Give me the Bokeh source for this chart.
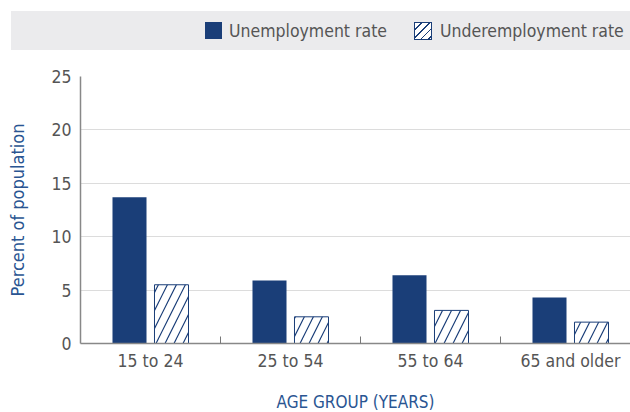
from bokeh.plotting import figure
from bokeh.layouts import column
from bokeh.models import Range1d, FixedTicker, ColumnDataSource, Div
from bokeh.embed import file_html
from bokeh.resources import INLINE

categories = ["15 to 24", "25 to 54", "55 to 64", "65 and older"]
unemployment = [13.7, 5.9, 6.4, 4.3]
underemployment = [5.5, 2.5, 3.1, 2.0]
y_ticks = [0, 5, 10, 15, 20, 25]
series_names = ["Unemployment rate", "Underemployment rate"]

FONT = "DejaVu Sans Condensed"
BLUE = "#1a3e78"
TITLE_BLUE = "#2a5592"
GRAY_TEXT = "#555555"
BAND = "#ebebed"

centers = [i + 0.5 for i in range(len(categories))]
offset = 0.15
bar_w = 0.243

# ---------- legend band (top strip) ----------
swatch_solid = ("display:inline-block;flex:none;width:17px;height:17px;"
                f"background:{BLUE};box-sizing:border-box;")
swatch_hatch = ("display:inline-block;flex:none;width:18px;height:18px;"
                f"box-sizing:border-box;border:1px solid {BLUE};"
                "background:repeating-linear-gradient(135deg,#ffffff 0px,#ffffff 4.2px,"
                f"{BLUE} 4.2px,{BLUE} 5.4px);")
label_css = (f"font-family:'{FONT}';font-size:17.5px;color:{GRAY_TEXT};"
             "white-space:nowrap;line-height:20px;flex:none;")
legend_html = (
    '<div style="display:flex;align-items:center;width:619px;height:39px;'
    f'background:{BAND};overflow:hidden;margin:0;padding:0;">'
    f'<span style="{swatch_solid}margin-left:194px;"></span>'
    f'<span style="{label_css}margin-left:7px;">{series_names[0]}</span>'
    f'<span style="{swatch_hatch}margin-left:27px;"></span>'
    f'<span style="{label_css}margin-left:8px;">{series_names[1]}</span>'
    '</div>')
band = Div(text=legend_html, width=619, height=39, margin=(11, 0, 0, 11))

# ---------- main chart ----------
p = figure(frame_width=550, frame_height=267, output_backend="svg",
           toolbar_location=None,
           x_range=Range1d(0, 550 / 140), y_range=Range1d(0, 25),
           min_border_left=80, min_border_right=0, min_border_top=26,
           min_border_bottom=69, margin=0)
p.outline_line_color = None
p.border_fill_color = "white"

src = ColumnDataSource(dict(
    x1=[c - offset for c in centers],
    x2=[c + offset for c in centers],
    u=unemployment, d=underemployment))

p.vbar(x="x1", top="u", width=bar_w, bottom=0, source=src,
       fill_color=BLUE, line_color=None)
p.vbar(x="x2", top="d", width=bar_w, bottom=0, source=src,
       fill_color="white", line_color=BLUE, line_width=1,
       hatch_pattern="/", hatch_color=BLUE, hatch_scale=18, hatch_weight=1.2)

# x axis
p.xaxis.ticker = FixedTicker(ticks=centers, minor_ticks=[1, 2, 3])
p.xaxis.major_label_overrides = {c: lab for c, lab in zip(centers, categories)}
p.xaxis.major_tick_line_color = None
p.xaxis.major_tick_in = 0
p.xaxis.major_tick_out = 0
p.xaxis.minor_tick_in = 7
p.xaxis.minor_tick_out = 0
p.xaxis.minor_tick_line_color = "#777777"
p.xaxis.axis_line_color = "#888888"
p.xaxis.axis_line_width = 1.5
p.xaxis.major_label_standoff = 7
p.xaxis.major_label_text_font = FONT
p.xaxis.major_label_text_font_size = "17.5px"
p.xaxis.major_label_text_color = GRAY_TEXT
p.xaxis.axis_label = "AGE GROUP (YEARS)"
p.xaxis.axis_label_text_font = FONT
p.xaxis.axis_label_text_font_style = "normal"
p.xaxis.axis_label_text_font_size = "17px"
p.xaxis.axis_label_text_color = TITLE_BLUE
p.xaxis.axis_label_standoff = 18

# y axis
p.yaxis.ticker = FixedTicker(ticks=y_ticks)
p.yaxis.major_tick_line_color = None
p.yaxis.major_tick_in = 0
p.yaxis.major_tick_out = 0
p.yaxis.minor_tick_line_color = None
p.yaxis.axis_line_color = "#888888"
p.yaxis.axis_line_width = 1.5
p.yaxis.major_label_standoff = 9
p.yaxis.major_label_text_font = FONT
p.yaxis.major_label_text_font_size = "17.5px"
p.yaxis.major_label_text_color = GRAY_TEXT
p.yaxis.axis_label = "Percent of population"
p.yaxis.axis_label_text_font = FONT
p.yaxis.axis_label_text_font_style = "normal"
p.yaxis.axis_label_text_font_size = "18px"
p.yaxis.axis_label_text_color = TITLE_BLUE
p.yaxis.axis_label_standoff = 20

p.xgrid.visible = False
p.ygrid.ticker = FixedTicker(ticks=y_ticks)
p.ygrid.grid_line_color = "#dcdcdc"
p.ygrid.grid_line_width = 1.2

layout = column(band, p, spacing=0)
open("out.html", "w").write(file_html(layout, INLINE))
